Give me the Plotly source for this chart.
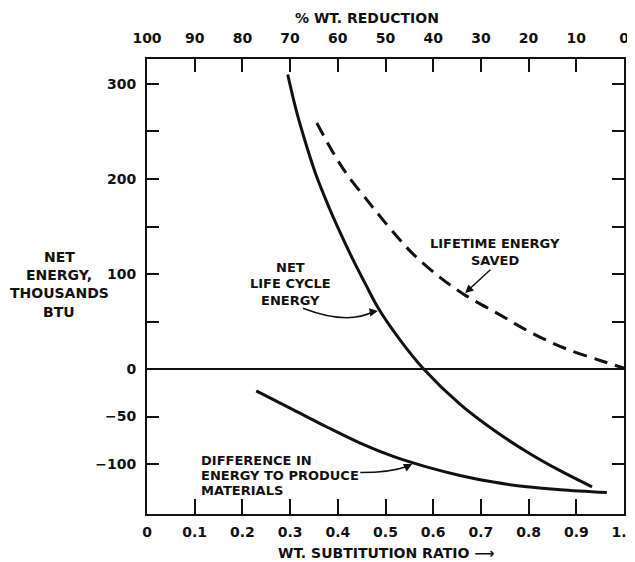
import plotly.graph_objects as go

# ---- data ----
ratio_ticks = [0, 0.1, 0.2, 0.3, 0.4, 0.5, 0.6, 0.7, 0.8, 0.9, 1.0]
ratio_labels = ["0", "0.1", "0.2", "0.3", "0.4", "0.5", "0.6", "0.7", "0.8", "0.9", "1.0"]
reduction_labels = ["100", "90", "80", "70", "60", "50", "40", "30", "20", "10", "0"]
y_ticks = [-100, -50, 0, 50, 100, 150, 200, 250, 300]
y_labels = ["−100", "−50", "0", "", "100", "", "200", "", "300"]

net_x = [0.295, 0.314, 0.335, 0.356, 0.38, 0.40, 0.43, 0.46, 0.485, 0.53, 0.58, 0.656, 0.726, 0.796, 0.866, 0.933]
net_y = [310, 270, 234, 202, 172, 149, 117, 87.5, 64, 31, 0, -37, -64, -87, -107, -124]

saved_x = [0.356, 0.39, 0.419, 0.461, 0.488, 0.53, 0.558, 0.608, 0.663, 0.74, 0.81, 0.88, 0.95, 1.0]
saved_y = [259, 228, 205, 178, 161, 136, 121, 99, 79, 57, 37, 21, 9, 1]

diff_x = [0.229, 0.307, 0.377, 0.447, 0.516, 0.586, 0.656, 0.726, 0.796, 0.866, 0.964]
diff_y = [-23, -43, -61, -78, -92, -103, -112, -119, -124, -127, -130]

FONT = "DejaVu Sans"
INK = "#111111"
OFF = 8  # page body margin of the html page

fig = go.Figure()
fig.add_trace(go.Scatter(x=net_x, y=net_y, mode="lines", line=dict(color=INK, width=3, shape="spline"),
                         showlegend=False, hoverinfo="skip"))
fig.add_trace(go.Scatter(x=saved_x, y=saved_y, mode="lines",
                         line=dict(color=INK, width=3, shape="spline", dash="14px,8px"),
                         showlegend=False, hoverinfo="skip"))
fig.add_trace(go.Scatter(x=diff_x, y=diff_y, mode="lines", line=dict(color=INK, width=3, shape="spline"),
                         showlegend=False, hoverinfo="skip"))
# invisible trace for the top / right axes
fig.add_trace(go.Scatter(x=[0, 1], y=[0, 0], xaxis="x2", yaxis="y2", mode="lines",
                         line=dict(width=0), showlegend=False, hoverinfo="skip"))

tickfont = dict(family=FONT, size=14, color=INK, weight="bold")
axis_common = dict(showline=True, linecolor=INK, linewidth=2, ticks="inside", tickcolor=INK,
                   tickwidth=2, showgrid=False, mirror=False, automargin=False,
                   ticklabeloverflow="allow", tickfont=tickfont)

# plot area in page pixels: x 147..624, y 59..514
fig.update_layout(
    width=635 - OFF, height=562 - OFF,
    margin=dict(l=147 - OFF, r=11, t=59 - OFF, b=48),
    paper_bgcolor="white", plot_bgcolor="white",
    xaxis=dict(range=[0, 1], tickvals=ratio_ticks, ticktext=ratio_labels, ticklen=15,
               ticklabelstandoff=4, zeroline=False, **axis_common),
    xaxis2=dict(range=[0, 1], tickvals=ratio_ticks, ticktext=reduction_labels, ticklen=13,
                ticklabelstandoff=8, overlaying="x", side="top", zeroline=False, **axis_common),
    yaxis=dict(range=[-152.6, 326.3], tickvals=y_ticks, ticktext=y_labels, ticklen=12,
               ticklabelstandoff=6, zeroline=True, zerolinecolor=INK, zerolinewidth=1.5,
               **axis_common),
    yaxis2=dict(range=[-152.6, 326.3], tickvals=y_ticks, showticklabels=False, ticklen=12,
                overlaying="y", side="right", zeroline=False, **axis_common),
)

txt = dict(family=FONT, size=13, color=INK, weight="bold")
ttl = dict(family=FONT, size=14, color=INK, weight="bold")
ann = []


def px_label(text, xp, yp, font, anchor="center"):
    # position given in pixel coordinates of the 635x562 page
    ann.append(dict(text=text, xref="paper", yref="paper",
                    x=(xp - 147) / 477, y=(514 - yp) / 455,
                    xanchor=anchor, yanchor="middle", showarrow=False, font=font))


# axis titles
px_label("% WT. REDUCTION", 367, 18, ttl)
px_label("WT. SUBTITUTION RATIO ⟶", 386, 553, ttl)
for line, yp in zip(["NET", "ENERGY,", "THOUSANDS", "BTU"], [257, 275, 293, 312]):
    px_label(line, 59, yp, ttl)
# curve labels
for line, yp in zip(["LIFETIME ENERGY", "SAVED"], [243, 260]):
    px_label(line, 495, yp, txt)
for line, yp in zip(["NET", "LIFE CYCLE", "ENERGY"], [267, 283, 300]):
    px_label(line, 290, yp, txt)
for line, yp in zip(["DIFFERENCE IN", "ENERGY TO PRODUCE", "MATERIALS"], [460, 475, 490]):
    px_label(line, 199, yp, txt, anchor="left")

# straight arrow (lifetime energy saved)
ann.append(dict(text="", x=0.667, y=80, ax=0.723, ay=106, axref="x", ayref="y", showarrow=True,
                arrowhead=2, arrowsize=1.1, arrowwidth=1.5, arrowcolor=INK, standoff=0))
# curved arrows: bezier shaft + arrow head
shapes = [
    dict(type="path", path="M 0.327,64 Q 0.42,46 0.475,60.5", line=dict(color=INK, width=1.5)),
    dict(type="path", path="M 0.447,-109 Q 0.51,-109 0.548,-102", line=dict(color=INK, width=1.5)),
]
ann.append(dict(text="", x=0.484, y=61, ax=0.465, ay=59.5, axref="x", ayref="y", showarrow=True,
                arrowhead=2, arrowsize=1.1, arrowwidth=1.5, arrowcolor=INK, standoff=0))
ann.append(dict(text="", x=0.556, y=-100, ax=0.54, ay=-104, axref="x", ayref="y", showarrow=True,
                arrowhead=2, arrowsize=1.1, arrowwidth=1.5, arrowcolor=INK, standoff=0))
fig.update_layout(annotations=ann, shapes=shapes)

fig.write_html("out.html")
